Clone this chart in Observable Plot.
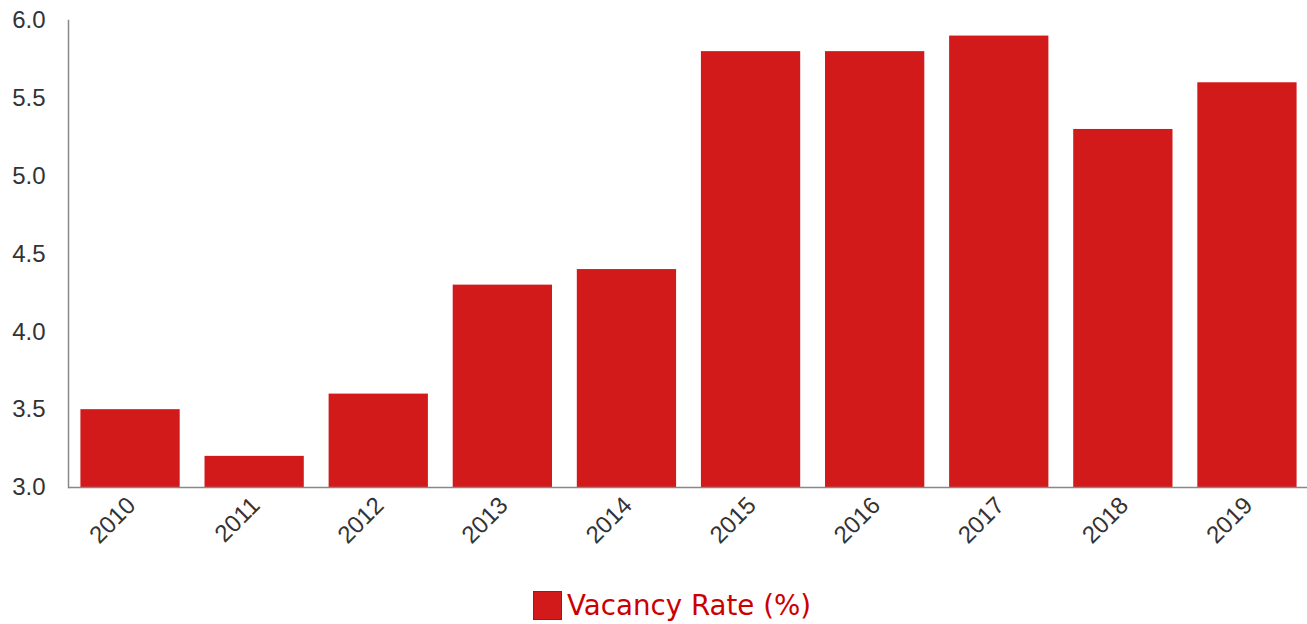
<!DOCTYPE html>
<html>
<head>
<meta charset="utf-8">
<script src="https://cdn.jsdelivr.net/npm/d3@7"></script>
<script src="https://cdn.jsdelivr.net/npm/@observablehq/plot@0.6"></script>
<style>
  html, body { margin: 0; padding: 0; background: #fff; overflow: hidden; }
  #chart { position: relative; width: 1307px; overflow: visible; }
  #legend { position: relative; height: 64px; font-family: "DejaVu Sans", Verdana, sans-serif; font-size: 27.7px; color: #cc0000; }
  #legend .item { position: absolute; left: 533px; top: 29px; display: flex; align-items: center; }
  #legend .sw { width: 27px; height: 27px; background: #d21a1a; border: 1px solid #b01010; margin-right: 5px; }
</style>
</head>
<body>
<div id="chart"></div>
<div id="legend"></div>
<script>
const years = ["2010","2011","2012","2013","2014","2015","2016","2017","2018","2019"];
const vacancyRate = [3.5, 3.2, 3.6, 4.3, 4.4, 5.8, 5.8, 5.9, 5.3, 5.6];
const yTicks = [3.0, 3.5, 4.0, 4.5, 5.0, 5.5, 6.0];
const seriesName = "Vacancy Rate (%)";
const barColor = "#d21a1a";

const data = years.map((y, i) => ({year: y, value: vacancyRate[i]}));

const plot = Plot.plot({
  width: 1307,
  height: 560,
  marginTop: 20,
  marginLeft: 68,
  marginRight: -2,
  marginBottom: 73,
  style: {fontFamily: "'Liberation Sans', Arial, sans-serif", color: "#333", background: "#fff", overflow: "visible"},
  x: {domain: years, paddingInner: 0.2, paddingOuter: 0.1, round: false, label: null},
  y: {domain: [3, 6], label: null},
  marks: [
    Plot.rectY(data, {x: "year", y1: 3, y2: "value", fill: barColor}),
    Plot.axisY({ticks: yTicks, tickFormat: d => d.toFixed(1), tickSize: 0, tickPadding: 23, fontSize: 24, fill: "#333"}),
    Plot.axisX({tickSize: 0, tickRotate: -45, tickPadding: 10, dx: 1, dy: 4, fontSize: 24, fill: "#333"}),
    Plot.ruleY([3], {stroke: "#888", strokeWidth: 1.5}),
    Plot.frame({anchor: "left", stroke: "#888", strokeWidth: 1.5})
  ]
});
document.getElementById("chart").appendChild(plot);

const legend = document.getElementById("legend");
const item = document.createElement("div");
item.className = "item";
const sw = document.createElement("div");
sw.className = "sw";
const lbl = document.createElement("span");
lbl.textContent = seriesName;
item.appendChild(sw);
item.appendChild(lbl);
legend.appendChild(item);
</script>
</body>
</html>
